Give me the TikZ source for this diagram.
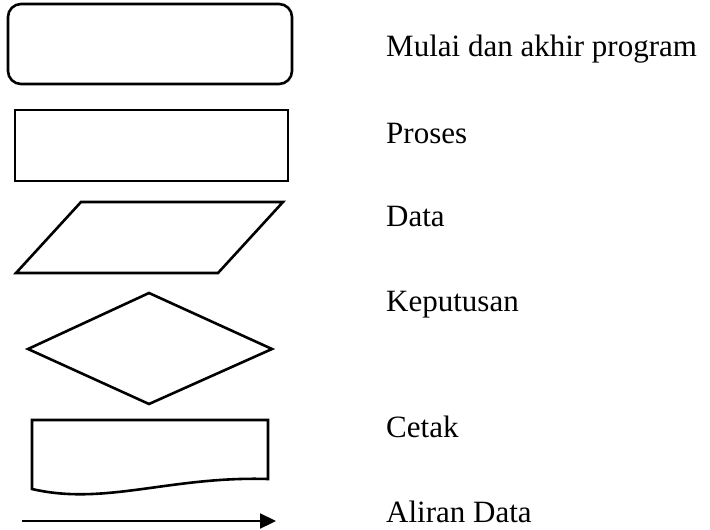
\documentclass[tikz,border=0pt]{standalone}
\usepackage{fontspec}
\setmainfont{Liberation Serif}
\usetikzlibrary{arrows.meta}
\tikzset{
  symbol/.style={draw=black, line width=2.6pt, line join=miter},
  legendtext/.style={anchor=base west, inner sep=0pt, font=\fontsize{31}{37}\selectfont},
}
\begin{document}
\begin{tikzpicture}[x=1pt, y=-1pt]
  \useasboundingbox (0,0) rectangle (710,530);

  % terminator: start and end of program
  \draw[symbol, rounded corners=13pt] (8,4) rectangle (292,84);
  % process
  \draw[symbol] (15,110) rectangle (288,181);
  % data (input/output)
  \draw[symbol] (16,273) -- (81,202) -- (283,202) -- (218,273) -- cycle;
  % decision
  \draw[symbol] (149,293) -- (272,349) -- (149,404) -- (28,349) -- cycle;
  % print (document)
  \draw[symbol] (32,489) -- (32,420) -- (268,420) -- (268,479)
    .. controls (170,476) and (105,506) .. (32,489) -- cycle;
  % data flow arrow
  \coordinate (flowA) at (22,521);
  \coordinate (flowB) at (276,521);
  \draw[line width=2.3pt, -{Triangle[length=16pt, width=15pt]}] (flowA) -- (flowB);

  % captions
  \node[legendtext] (tTerm) at (386,56) {Mulai dan akhir program};
  \node[legendtext] (tProc) at (386,143) {Proses};
  \node[legendtext] (tData) at (386,226) {Data};
  \node[legendtext] (tDec)  at (386,311) {Keputusan};
  \node[legendtext] (tPrn)  at (386,437) {Cetak};
  \node[legendtext] (tFlow) at (386,522) {Aliran Data};
\end{tikzpicture}
\end{document}
